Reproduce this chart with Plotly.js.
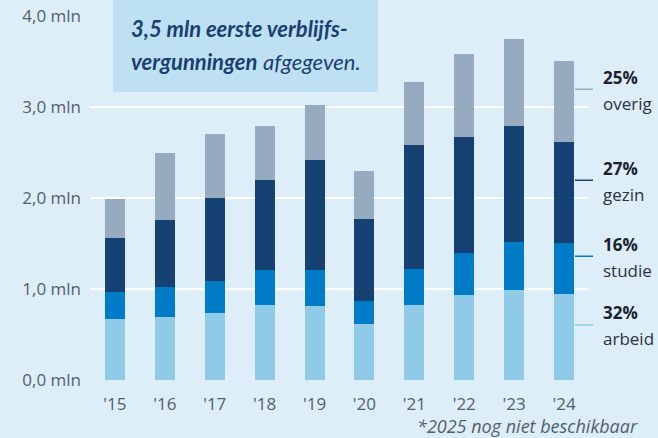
<!DOCTYPE html>
<html>
<head>
<meta charset="utf-8">
<script src="https://cdn.plot.ly/plotly-3.0.1.min.js"></script>
<style>html,body{margin:0;padding:0;background:#DDEEF8;}#chart{width:658px;height:438px;}</style>
</head>
<body>
<div id="chart"></div>
<script>
const years = ['2015','2016','2017','2018','2019','2020','2021','2022','2023','2024'];
const yearLabels = ["'15","'16","'17","'18","'19","'20","'21","'22","'23","'24"];
const arbeid = [0.67, 0.69, 0.74, 0.82, 0.81, 0.62, 0.82, 0.93, 0.99, 0.95];
const studie = [0.30, 0.33, 0.35, 0.39, 0.40, 0.25, 0.40, 0.47, 0.53, 0.56];
const gezin  = [0.59, 0.74, 0.91, 0.99, 1.21, 0.90, 1.36, 1.27, 1.27, 1.11];
const overig = [0.43, 0.74, 0.70, 0.59, 0.60, 0.53, 0.70, 0.91, 0.96, 0.89];
const seriesNames = ['arbeid','studie','gezin','overig'];
const seriesPct = ['32%','16%','27%','25%'];
const seriesColors = ['#8FCAE7','#007BC7','#154273','#96AAC0'];
const yTickVals = [0,1,2,3,4];
const yTickText = ['0,0 mln','1,0 mln','2,0 mln','3,0 mln','4,0 mln'];
const boxLine1 = '3,5 mln eerste verblijfs-';
const boxLine2a = 'vergunningen';
const boxLine2b = 'afgegeven.';
const footnote = '*2025 nog niet beschikbaar';

const series = [arbeid, studie, gezin, overig];
const traces = series.map((vals, i) => ({
  type: 'bar', x: years, y: vals, name: seriesNames[i], width: 0.4,
  marker: {color: seriesColors[i], line: {width: 0}}, hoverinfo: 'skip'
}));

// right-hand labels tied to the last bar
const last = years.length - 1;
let base = 0;
const shapes = [];
const annotations = [];
const plotL = 90, plotW = 498;
const px2paperX = px => (px - plotL) / plotW;
series.forEach((vals, i) => {
  const v = vals[last];
  const yLine = base + v / 2 + 0.13;
  base += v;
  shapes.push({type:'line', xref:'paper', yref:'y', x0: px2paperX(575), x1: px2paperX(593),
    y0: yLine, y1: yLine, line:{color: seriesColors[i], width: 1.5}});
  annotations.push({xref:'paper', yref:'y', x: px2paperX(601), y: yLine, xanchor:'left', yanchor:'middle',
    yshift: 12, showarrow:false, text:'<b>'+seriesPct[i]+'</b>',
    font:{family:'Open Sans', size:17, color:'#1c2230'}});
  annotations.push({xref:'paper', yref:'y', x: px2paperX(601), y: yLine, xanchor:'left', yanchor:'middle',
    yshift: -14, showarrow:false, text: seriesNames[i],
    font:{family:'Open Sans', size:17, color:'#2b3240'}});
});

// callout box
const plotB = 380, plotH = 364;
const py2paperY = py => (plotB - py) / plotH;
shapes.push({type:'rect', xref:'paper', yref:'paper', x0: px2paperX(113), x1: px2paperX(378),
  y0: py2paperY(92), y1: py2paperY(-5), fillcolor:'#BDE0F2', line:{width:0}, layer:'above'});
annotations.push({xref:'paper', yref:'paper', x: px2paperX(129), y: py2paperY(28), xanchor:'left', yanchor:'middle',
  showarrow:false, text:'<b><i>'+boxLine1+'</i></b>',
  font:{family:'Liberation Sans Narrow, Lato', size:22, color:'#1B3F71'}});
annotations.push({xref:'paper', yref:'paper', x: px2paperX(129), y: py2paperY(61), xanchor:'left', yanchor:'middle',
  showarrow:false, text:'<b><i>'+boxLine2a+'</i></b> <i>'+boxLine2b+'</i>',
  font:{family:'Liberation Sans Narrow, Lato', size:22, color:'#1B3F71'}});

// footnote
annotations.push({xref:'paper', yref:'paper', x: px2paperX(415), y: py2paperY(426), xanchor:'left', yanchor:'middle',
  showarrow:false, text:'<i>'+footnote+'</i>',
  font:{family:'Open Sans', size:18, color:'#535E6E'}});

const layout = {
  width: 658, height: 438,
  margin: {l: 90, r: 70, t: 16, b: 58, pad: 0},
  paper_bgcolor: '#DDEEF8', plot_bgcolor: '#DDEEF8',
  barmode: 'stack', showlegend: false, hovermode: false,
  font: {family: 'Open Sans', size: 17, color: '#535E6E'},
  xaxis: {type:'category', tickvals: years, ticktext: yearLabels, range: [-0.5, 9.48],
    showgrid:false, zeroline:false, showline:false, ticks:'', ticklabelstandoff: 12,
    tickfont:{family:'Open Sans', size:17, color:'#535E6E'}},
  yaxis: {range:[0,4], tickvals: yTickVals, ticktext: yTickText, showgrid:true, gridcolor:'#FFFFFF',
    gridwidth: 2.5, zeroline:false, showline:false, ticks:'', ticklabelstandoff: 8,
    tickfont:{family:'Open Sans', size:17, color:'#535E6E'}},
  shapes: shapes, annotations: annotations
};
Plotly.newPlot('chart', traces, layout, {staticPlot: true, displayModeBar: false});
</script>
</body>
</html>
